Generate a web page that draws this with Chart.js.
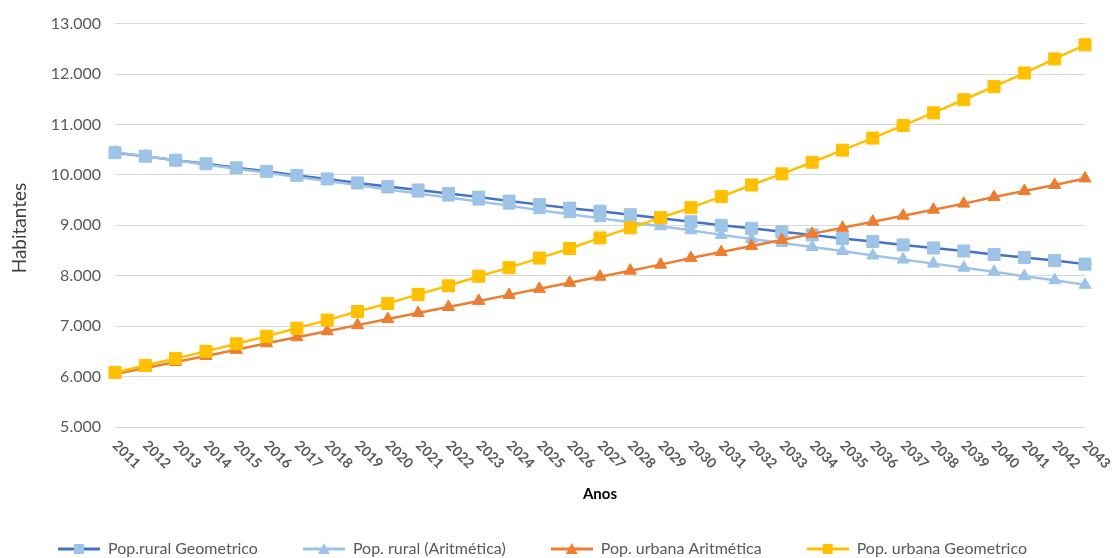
<!DOCTYPE html>
<html>
<head>
<meta charset="utf-8">
<script src="https://cdn.jsdelivr.net/npm/chart.js@4.4.1/dist/chart.umd.min.js"></script>
<style>
  html, body { margin: 0; padding: 0; background: #fff; }
  #wrap { width: 1113px; height: 558px; }
</style>
</head>
<body>
<div id="wrap"><canvas id="chart"></canvas></div>
<script>
// Years on the x axis
const years = ['2011','2012','2013','2014','2015','2016','2017','2018','2019','2020','2021',
  '2022','2023','2024','2025','2026','2027','2028','2029','2030','2031','2032',
  '2033','2034','2035','2036','2037','2038','2039','2040','2041','2042','2043'];

// Series values
const ruralGeo = [10440, 10370, 10290, 10220, 10140, 10070, 9990, 9920, 9840, 9770, 9700,
  9630, 9560, 9480, 9410, 9340, 9280, 9210, 9140, 9070, 9000, 8940,
  8870, 8810, 8740, 8680, 8610, 8550, 8490, 8420, 8360, 8300, 8230];
const ruralArit = [10450, 10370, 10290, 10200, 10120, 10040, 9960, 9880, 9800, 9710, 9630,
  9550, 9470, 9390, 9300, 9220, 9140, 9060, 8980, 8900, 8810, 8730,
  8650, 8570, 8490, 8400, 8320, 8240, 8160, 8080, 7990, 7910, 7820];
const urbanArit = [6050, 6170, 6290, 6410, 6530, 6660, 6780, 6900, 7020, 7140, 7260,
  7380, 7500, 7620, 7740, 7860, 7980, 8100, 8220, 8350, 8470, 8590,
  8710, 8830, 8950, 9070, 9190, 9310, 9430, 9560, 9680, 9800, 9930];
const urbanGeo = [6080, 6220, 6360, 6500, 6650, 6800, 6960, 7120, 7290, 7450, 7630,
  7800, 7990, 8160, 8350, 8540, 8750, 8950, 9150, 9350, 9570, 9800,
  10020, 10250, 10490, 10730, 10980, 11230, 11490, 11750, 12020, 12300, 12580];

const seriesNames = ['Pop.rural Geometrico', 'Pop. rural (Aritmética)', 'Pop. urbana Aritmética', 'Pop. urbana Geometrico'];

const FONT = "Lato, 'Open Sans', sans-serif";
const GREY = '#595959';

// little line+marker icon for the legend
function legendIcon(lineColor, markerColor, shape) {
  const c = document.createElement('canvas');
  c.width = 42; c.height = 14;
  const g = c.getContext('2d');
  g.strokeStyle = lineColor;
  g.lineWidth = 3;
  g.beginPath(); g.moveTo(0, 7); g.lineTo(42, 7); g.stroke();
  g.fillStyle = markerColor;
  if (shape === 'rect') {
    g.fillRect(16, 2, 10, 10);
  } else {
    g.beginPath(); g.moveTo(21, 1); g.lineTo(27, 12); g.lineTo(15, 12); g.closePath(); g.fill();
  }
  return c;
}

const styles = [
  { line: '#4472C4', marker: '#9DC3E6', shape: 'rect', radius: 8.5 },
  { line: '#9DC3E6', marker: '#9DC3E6', shape: 'triangle', radius: 7 },
  { line: '#ED7D31', marker: '#ED7D31', shape: 'triangle', radius: 7 },
  { line: '#FFC000', marker: '#FFC000', shape: 'rect', radius: 8.5 }
];
const values = [ruralGeo, ruralArit, urbanArit, urbanGeo];

const datasets = values.map((v, i) => ({
  label: seriesNames[i],
  data: v,
  borderColor: styles[i].line,
  backgroundColor: styles[i].marker,
  borderWidth: 2.5,
  pointStyle: styles[i].shape,
  pointRadius: styles[i].radius,
  pointBackgroundColor: styles[i].marker,
  pointBorderColor: styles[i].marker,
  pointBorderWidth: 1,
  tension: 0,
  clip: false,
  order: 4 - i,
  legendIcon: legendIcon(styles[i].line, styles[i].marker, styles[i].shape)
}));

// x tick labels slanted down to the right, plus axis titles
const axisTextPlugin = {
  id: 'axisText',
  afterDraw(chart) {
    const ctx = chart.ctx;
    const xs = chart.scales.x;
    const area = chart.chartArea;
    ctx.save();
    ctx.fillStyle = GREY;
    ctx.font = 'bold 14px ' + FONT;
    ctx.textAlign = 'left';
    ctx.textBaseline = 'middle';
    years.forEach((y, i) => {
      const px = xs.getPixelForTick(i);
      ctx.save();
      ctx.translate(px, area.bottom + 16);
      ctx.rotate(Math.PI / 4);
      ctx.fillText(y, 0, 0);
      ctx.restore();
    });
    ctx.fillStyle = '#000';
    ctx.font = 'bold 15px ' + FONT;
    ctx.textAlign = 'center';
    ctx.fillText('Anos', (area.left + area.right) / 2, 494);

    ctx.fillStyle = '#404040';
    ctx.font = '19px ' + FONT;
    ctx.translate(20, 228);
    ctx.rotate(-Math.PI / 2);
    ctx.fillText('Habitantes', 0, 0);
    ctx.restore();
  }
};

new Chart(document.getElementById('chart'), {
  type: 'line',
  data: { labels: years, datasets: datasets },
  plugins: [axisTextPlugin],
  options: {
    responsive: true,
    maintainAspectRatio: false,
    animation: false,
    layout: { padding: { top: 14, right: 28, left: 0, bottom: -9 } },
    scales: {
      x: {
        offset: false,
        grid: { display: false },
        border: { display: false },
        ticks: { display: false },
        afterFit(s) { s.height = 69; }
      },
      y: {
        min: 5000,
        max: 13000,
        ticks: {
          stepSize: 1000,
          color: GREY,
          font: { family: FONT, size: 16 },
          padding: 14,
          callback: v => v.toLocaleString('de-DE', { minimumFractionDigits: 0 }).replace(/,/g, '.')
        },
        grid: { color: '#D9D9D9', lineWidth: 1, drawTicks: false },
        border: { display: false },
        afterFit(s) { s.width = 115; }
      }
    },
    plugins: {
      legend: {
        position: 'bottom',
        labels: {
          usePointStyle: true,
          pointStyleWidth: 42,
          padding: 45,
          color: GREY,
          font: { family: FONT, size: 16 },
          generateLabels(chart) {
            return chart.data.datasets.map((ds, i) => ({
              text: ds.label,
              pointStyle: ds.legendIcon,
              fillStyle: ds.backgroundColor,
              strokeStyle: ds.borderColor,
              lineWidth: 0,
              hidden: false,
              datasetIndex: i,
              fontColor: GREY
            }));
          }
        }
      },
      tooltip: { enabled: false }
    }
  }
});
</script>
</body>
</html>
